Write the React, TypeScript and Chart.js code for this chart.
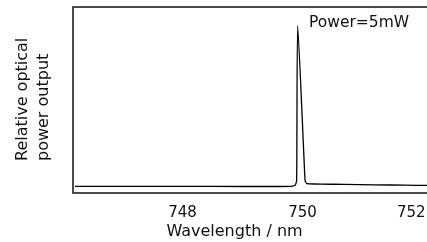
import React, { useEffect, useRef } from "react";
import { Chart, registerables } from "chart.js";

Chart.register(...registerables);

const wavelengths = [746.208, 747.0, 748.0, 749.0, 749.5, 749.8, 749.86, 749.885, 749.903, 749.92, 750.042, 750.06, 750.08, 750.12, 750.3, 750.7, 751.2, 751.7, 752.075];
const power = [0.036, 0.036, 0.036, 0.035, 0.035, 0.036, 0.039, 0.046, 0.07, 0.898, 0.07, 0.055, 0.05, 0.049, 0.048, 0.046, 0.044, 0.042, 0.041];
const xTicks = [748, 750, 752];
const xTitle = "Wavelength / nm";
const yTitle = ["Relative optical", "power output"];
const annotation = "Power=5mW";

const FONT = "DejaVu Sans";

const overlay = {
  id: "overlay",
  afterDraw(chart: any) {
    const { ctx, chartArea } = chart;
    ctx.save();
    ctx.strokeStyle = "#111";
    ctx.lineWidth = 1.5;
    ctx.strokeRect(chartArea.left, chartArea.top, chartArea.right - chartArea.left + 2, chartArea.bottom - chartArea.top);
    ctx.fillStyle = "#111";
    ctx.font = `15.5px "${FONT}"`;
    ctx.textBaseline = "middle";
    ctx.textAlign = "left";
    ctx.fillText(annotation, 309, 23);
    ctx.font = `16px "${FONT}"`;
    ctx.textAlign = "center";
    ctx.fillText(xTitle, 234.5, 232);
    ctx.textAlign = "left";
    ctx.rotate(-Math.PI / 2);
    ctx.fillText(yTitle[0], -161, 23);
    ctx.fillText(yTitle[1], -161, 44);
    ctx.restore();
  },
};

export default function App() {
  const ref = useRef<HTMLCanvasElement>(null);
  useEffect(() => {
    document.body.style.margin = "0";
    const chart = new Chart(ref.current!, {
      type: "line",
      data: {
        datasets: [
          {
            data: wavelengths.map((x, i) => ({ x, y: power[i] })),
            borderColor: "#000",
            borderWidth: 1.3,
            pointRadius: 0,
            tension: 0.2,
            fill: false,
          },
        ],
      },
      options: {
        animation: false,
        responsive: false,
        events: [],
        layout: { padding: { top: 7, right: 0, left: 0, bottom: 0 } },
        plugins: { legend: { display: false }, tooltip: { enabled: false } },
        scales: {
          x: {
            type: "linear",
            min: 746.175,
            max: 752.075,
            grid: { display: false },
            border: { display: false },
            afterBuildTicks: (s: any) => {
              s.ticks = xTicks.map((v) => ({ value: v }));
            },
            afterFit: (s: any) => {
              s.height = 49;
              s.paddingLeft = 0;
              s.paddingRight = 0;
            },
            ticks: {
              color: "#111",
              font: { family: FONT, size: 15 },
              padding: 3,
              maxRotation: 0,
              autoSkip: false,
              callback: (v: any) => (v === 752 ? String(v) + "\u2002\u2002\u2002" : String(v)),
            },
            title: { display: false },
          },
          y: {
            min: 0,
            max: 1,
            grid: { display: false },
            border: { display: false },
            ticks: { display: false },
            afterFit: (s: any) => {
              s.width = 73;
            },
          },
        },
      },
      plugins: [overlay],
    });
    return () => chart.destroy();
  }, []);
  return (
    <div style={{ width: 427, height: 242 }}>
      <canvas ref={ref} width={427} height={242} />
    </div>
  );
}
